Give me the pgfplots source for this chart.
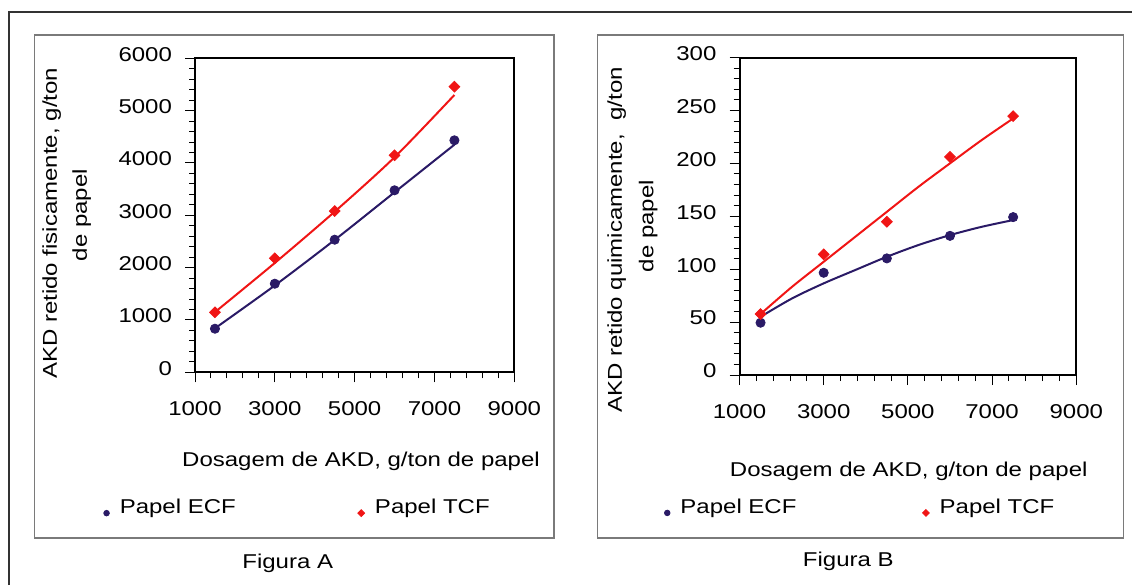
\documentclass[border=0pt]{standalone}
\usepackage{fontspec}
\setmainfont{Liberation Sans}[FakeStretch=1.2]
\usepackage{pgfplots}
\pgfplotsset{compat=1.18}
\definecolor{ecf}{HTML}{2A1A66}
\definecolor{tcf}{HTML}{F01515}
\definecolor{boxgray}{HTML}{7A7A7A}

\pgfplotsset{
  painel/.style={
    scale only axis, anchor=south west, clip=false,
    xmin=1000, xmax=9000, xtick={1000,3000,5000,7000,9000},
    minor x tick num=4, minor y tick num=4,
    tick pos=left, tick align=outside,
    major tick length=5pt, minor tick length=3pt,
    axis line style={line width=1pt},
    every tick/.style={black, line width=0.5pt},
    /pgf/number format/assume math mode=true,
    /pgf/number format/1000 sep={}, scaled ticks=false,
    xticklabel style={anchor=north, inner sep=0pt, yshift=-9.4pt},
    yticklabel style={anchor=east, inner sep=0pt, xshift=-6.35pt, yshift=2pt},
    legend columns=2,
    legend style={draw=none, fill=none, inner sep=0pt, anchor=west,
      nodes={inner sep=2pt},
      /tikz/every odd column/.append style={column sep=3.2pt},
      /tikz/every even column/.append style={column sep=59pt}},
  },
  ecfmarks/.style={only marks, mark=*, color=ecf, mark size=2.3pt,
    legend image code/.code={\draw[##1, mark size=1.4pt] plot coordinates {(0pt,-2.6pt)};}},
  tcfmarks/.style={only marks, mark=square*, mark options={rotate=45}, color=tcf, mark size=1.9pt,
    legend image code/.code={\draw[##1, mark size=1.2pt] plot coordinates {(0pt,-2.6pt)};}},
  trend/.style={line width=1pt, smooth, no marks, forget plot},
}

\begin{document}
\begin{tikzpicture}
\path[use as bounding box] (0,0) rectangle (566pt,-292.5pt);

% frames and labels, in image pixels (1 px = 0.5 pt)
\begin{scope}[x=0.5pt, y=-0.5pt]
  \draw[line width=1pt, black!80] (9.3,585) -- (9.3,12.3) -- (1132,12.3);
  \draw[line width=0.75pt, boxgray] (34.3,35) rectangle (554,538);
  \draw[line width=0.75pt, boxgray] (597.7,35) rectangle (1123.7,538);

  \node[rotate=90, inner sep=0pt] at (51.7,223.3) {AKD retido fisicamente, g/ton};
  \node[rotate=90, inner sep=0pt] at (81.7,215) {de papel};
  \node[inner sep=0pt] at (361,461.7) {Dosagem de AKD, g/ton de papel};
  \node[inner sep=0pt] at (287.7,563.3) {Figura A};

  \node[rotate=90, inner sep=0pt] at (616.7,240) {AKD retido quimicamente,\ \ g/ton};
  \node[rotate=90, inner sep=0pt] at (648.3,226) {de papel};
  \node[inner sep=0pt] at (908.7,471.5) {Dosagem de AKD, g/ton de papel};
  \node[inner sep=0pt] at (848.3,561.7) {Figura B};
\end{scope}

% Figura A
\begin{axis}[painel, at={(97.5pt,-186.15pt)}, width=159.65pt, height=157pt,
  ymin=0, ymax=6000, ytick={0,1000,...,6000},
  legend style={at={(-0.287,-0.432)}}]
  \addplot[trend, ecf] coordinates {(1500,840) (3000,1660) (4500,2530) (6000,3440) (7500,4350)};
  \addplot[trend, tcf] coordinates {(1500,1150) (3000,2090) (4500,3070) (6000,4110) (7500,5300)};
  \addplot[ecfmarks] coordinates {(1500,833) (3000,1693) (4500,2534) (6000,3478) (7500,4433)};
  \addlegendentry{Papel ECF}
  \addplot[tcfmarks] coordinates {(1500,1147) (3000,2178) (4500,3082) (6000,4147) (7500,5458)};
  \addlegendentry{Papel TCF}
\end{axis}

% Figura B
\begin{axis}[painel, at={(369.75pt,-187.5pt)}, width=168.4pt, height=158.75pt,
  ymin=0, ymax=300, ytick={0,50,...,300},
  legend style={at={(-0.224,-0.418)}, /tikz/every even column/.append style={column sep=61pt}}]
  \addplot[trend, ecf] coordinates {(1500,55) (2250,72.4) (3000,86.6) (3750,99.2) (4500,111.7) (5250,122.8) (6000,132.2) (6750,140) (7500,146.4)};
  \addplot[trend, tcf] coordinates {(1500,57.6) (2250,83.4) (3000,107) (3750,130.6) (4500,154.2) (5250,177.8) (6000,200) (6750,221.9) (7500,242.4)};
  \addplot[ecfmarks] coordinates {(1500,49.4) (3000,96.6) (4500,110.2) (6000,131.5) (7500,149.2)};
  \addlegendentry{Papel ECF}
  \addplot[tcfmarks] coordinates {(1500,57.6) (3000,114) (4500,144.8) (6000,206.1) (7500,244.6)};
  \addlegendentry{Papel TCF}
\end{axis}
\end{tikzpicture}
\end{document}
